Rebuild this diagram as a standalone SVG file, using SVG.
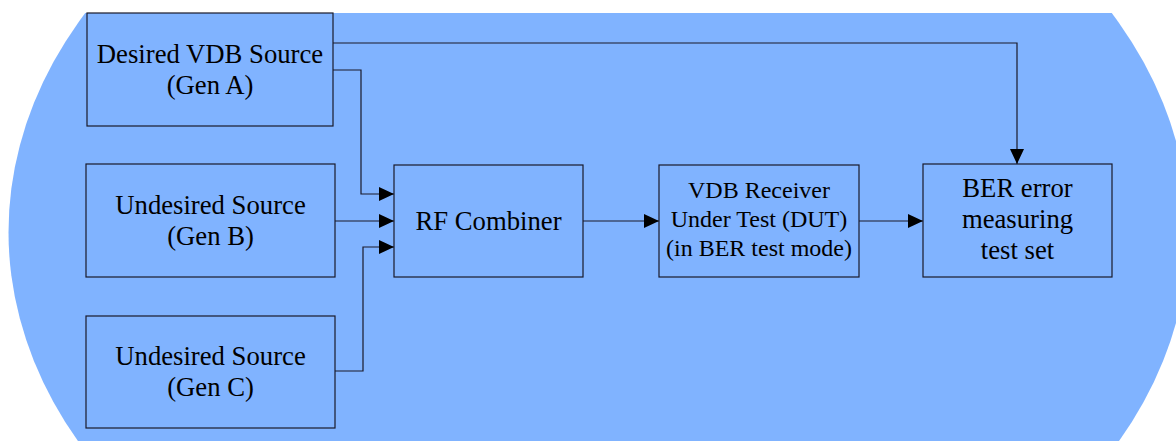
<svg xmlns="http://www.w3.org/2000/svg" width="1176" height="441" viewBox="0 0 1176 441">
  <style>
    .box { fill: #80B3FF; stroke: #1a1a2a; stroke-width: 1.2; }
    .t { font-family: "Liberation Serif", "Times New Roman", serif; font-size: 26.7px; fill: #000; text-anchor: middle; }
    .ts { font-size: 24px; }
    .c { fill: none; stroke: #1a1a2a; stroke-width: 1.2; }
  </style>
  <defs>
    <clipPath id="clipTop"><rect x="0" y="13" width="1176" height="428"/></clipPath>
    <marker id="arr" markerUnits="userSpaceOnUse" markerWidth="15" markerHeight="14" refX="15" refY="7" orient="auto">
      <path d="M0,0 L15,7 L0,14 z" fill="#000"/>
    </marker>
  </defs>
  <rect x="0" y="0" width="1176" height="441" fill="#fff"/>
  <ellipse cx="598.5" cy="232" rx="590" ry="444" fill="#80B3FF" clip-path="url(#clipTop)"/>

  <g id="connectors">
    <path class="c" d="M333,43 H1017 V164" marker-end="url(#arr)"/>
    <path class="c" d="M333,70 H361 V194 H394" marker-end="url(#arr)"/>
    <path class="c" d="M335,221 H394" marker-end="url(#arr)"/>
    <path class="c" d="M335,371 H363 V247 H394" marker-end="url(#arr)"/>
    <path class="c" d="M583,221 H659" marker-end="url(#arr)"/>
    <path class="c" d="M859,221 H923" marker-end="url(#arr)"/>
  </g>

  <g id="genA">
    <rect class="box" x="87" y="13" width="246" height="113"/>
    <text class="t" x="210" y="62.5">Desired VDB Source</text>
    <text class="t" x="210" y="93.5">(Gen A)</text>
  </g>
  <g id="genB">
    <rect class="box" x="86" y="164" width="249" height="113"/>
    <text class="t" x="210.5" y="213.5">Undesired Source</text>
    <text class="t" x="210.5" y="244.5">(Gen B)</text>
  </g>
  <g id="genC">
    <rect class="box" x="86" y="316" width="249" height="112"/>
    <text class="t" x="210.5" y="364.5">Undesired Source</text>
    <text class="t" x="210.5" y="395.5">(Gen C)</text>
  </g>
  <g id="combiner">
    <rect class="box" x="394" y="165" width="189" height="112"/>
    <text class="t" x="488.5" y="229.5">RF Combiner</text>
  </g>
  <g id="dut">
    <rect class="box" x="659" y="165" width="200" height="112"/>
    <text class="t ts" x="759" y="198">VDB Receiver</text>
    <text class="t ts" x="759" y="227">Under Test (DUT)</text>
    <text class="t ts" x="759" y="256">(in BER test mode)</text>
  </g>
  <g id="ber">
    <rect class="box" x="923" y="164" width="189" height="113"/>
    <text class="t" x="1017.5" y="196.5">BER error</text>
    <text class="t" x="1017.5" y="227.5">measuring</text>
    <text class="t" x="1017.5" y="259">test set</text>
  </g>
</svg>
